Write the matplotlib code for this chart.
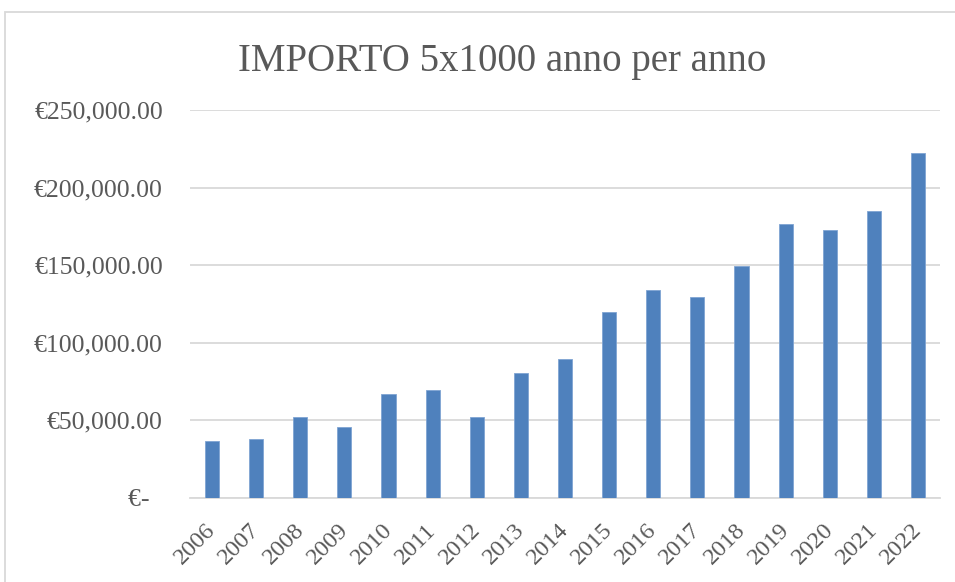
import matplotlib.pyplot as plt
import matplotlib.transforms as mtransforms
from matplotlib.ticker import FuncFormatter
from matplotlib.patches import Rectangle

# importo 5x1000 per anno
anni = ["2006", "2007", "2008", "2009", "2010", "2011", "2012", "2013", "2014",
        "2015", "2016", "2017", "2018", "2019", "2020", "2021", "2022"]
importi = [36700, 38000, 52400, 45700, 67200, 69600, 51900, 80500, 89600,
           119800, 134000, 129500, 149700, 176700, 172900, 185100, 222300]
y_ticks = [0, 50000, 100000, 150000, 200000, 250000]

plt.rcParams["font.family"] = ["Liberation Serif", "DejaVu Serif"]
grey = "#595959"

fig = plt.figure(figsize=(9.55, 5.82), dpi=100)
ax = fig.add_axes([190 / 955, 1 - 498 / 582, 750 / 955, 388 / 582])

x = range(len(anni))
ax.bar(x, importi, width=0.32, color="#4f81bd", edgecolor="#7fa4d3", linewidth=0.6, zorder=3)

ax.set_xlim(-0.5, len(anni) - 0.5)
ax.set_ylim(0, 250000)
ax.set_yticks(y_ticks)


def euro(v, pos):
    if v == 0:
        return "€-  "
    return "€{:,.2f}".format(v)


ax.yaxis.set_major_formatter(FuncFormatter(euro))
ax.set_xticks(list(x))
ax.set_xticklabels(anni, rotation=45, ha="right", rotation_mode="anchor")

ax.tick_params(axis="y", length=0, pad=19.5, labelsize=18.5, labelcolor=grey)
ax.tick_params(axis="x", length=0, pad=15.5, labelsize=17.5, labelcolor=grey)
shift = mtransforms.ScaledTranslation(-7 / 100, 0, fig.dpi_scale_trans)
for lab in ax.get_xticklabels():
    lab.set_transform(lab.get_transform() + shift)
ax.grid(axis="y", color="#d9d9d9", linewidth=1.3, zorder=0)
for s in ["top", "right", "left"]:
    ax.spines[s].set_visible(False)
ax.spines["bottom"].set_color("#d9d9d9")
ax.spines["bottom"].set_linewidth(1.3)

fig.text(502 / 955, 1 - 61 / 582, "IMPORTO 5x1000 anno per anno", ha="center", va="center",
         fontsize=28, color=grey)

# cornice del grafico
fig.patches.append(Rectangle((5 / 955, -0.1), 1.1, 1 - 12 / 582 + 0.1, transform=fig.transFigure,
                             fill=False, edgecolor="#d9d9d9", linewidth=1.3))

fig.savefig("out.png", dpi=100)
